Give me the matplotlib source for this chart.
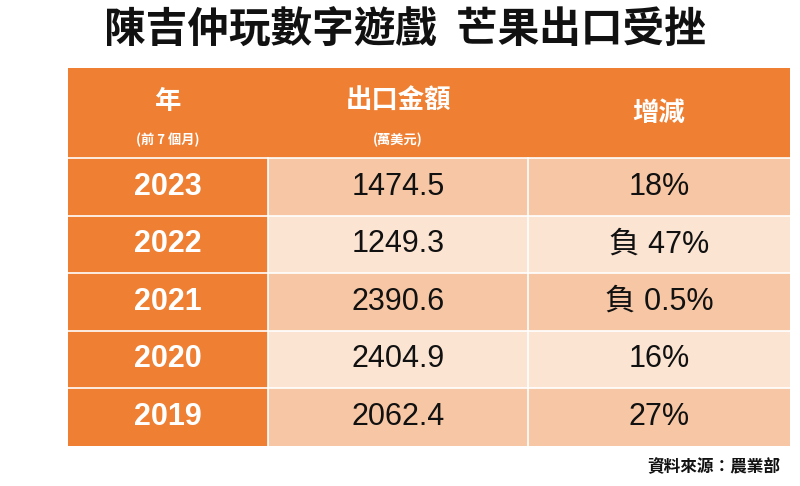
import matplotlib.pyplot as plt
from matplotlib.patches import Rectangle

plt.rcParams['font.family'] = ['Noto Sans CJK TC', 'DejaVu Sans']

title = "陳吉仲玩數字遊戲  芒果出口受挫"
headers = ["年", "出口金額", "增減"]
subheaders = ["(前 7 個月)", "(萬美元)", ""]
years = ["2023", "2022", "2021", "2020", "2019"]
amounts = ["1474.5", "1249.3", "2390.6", "2404.9", "2062.4"]
changes = ["18%", "負 47%", "負 0.5%", "16%", "27%"]
source = "資料來源：農業部"

W, H = 800, 486
fig = plt.figure(figsize=(8, 4.86), dpi=100)
ax = fig.add_axes([0, 0, 1, 1])
ax.set_xlim(0, W)
ax.set_ylim(H, 0)
ax.axis('off')

orange = '#EE7F33'
dark_row = '#F7C7A5'
light_row = '#FCE4D3'
cols = [68, 268, 528, 790]
top, head_h, row_h = 68, 90, 57.5
num_font = ['Liberation Sans', 'Noto Sans CJK TC']

ax.text(405, 31, title, ha='center', va='center', fontsize=30, fontweight='bold', color='#111111')

ax.add_patch(Rectangle((cols[0], top), cols[3] - cols[0], head_h, color=orange, lw=0))
for i, (h, s) in enumerate(zip(headers, subheaders)):
    cx = (cols[i] + cols[i + 1]) / 2
    if s:
        ax.text(cx, top + 33, h, ha='center', va='center', fontsize=19, fontweight='bold', color='white')
        ax.text(cx, top + 72, s, ha='center', va='center', fontsize=9.5, fontweight='bold', color='white')
    else:
        ax.text(cx, top + 45, h, ha='center', va='center', fontsize=19, fontweight='bold', color='white')

for r, (y, a, c) in enumerate(zip(years, amounts, changes)):
    y0 = top + head_h + r * row_h
    fill = dark_row if r % 2 == 0 else light_row
    ax.add_patch(Rectangle((cols[0], y0), cols[1] - cols[0], row_h, color=orange, lw=0))
    ax.add_patch(Rectangle((cols[1], y0), cols[3] - cols[1], row_h, color=fill, lw=0))
    cy = y0 + row_h / 2
    ax.text((cols[0] + cols[1]) / 2, cy, y, ha='center', va='center', fontsize=22, fontweight='bold',
            color='white', family=num_font)
    ax.text((cols[1] + cols[2]) / 2, cy, a, ha='center', va='center', fontsize=22, color='#111111', family=num_font)
    ax.text((cols[2] + cols[3]) / 2, cy, c, ha='center', va='center', fontsize=22, color='#111111', family=num_font)

# white grid lines
bottom = top + head_h + len(years) * row_h
for r in range(len(years)):
    y0 = top + head_h + r * row_h
    ax.plot([cols[0], cols[3]], [y0, y0], color='white', lw=1.2)
for x in cols[1:3]:
    ax.plot([x, x], [top + head_h, bottom], color='white', lw=1.2)

ax.text(780, 467, source, ha='right', va='center', fontsize=12, fontweight='bold', color='#111111')

fig.savefig('out.png', dpi=100)
